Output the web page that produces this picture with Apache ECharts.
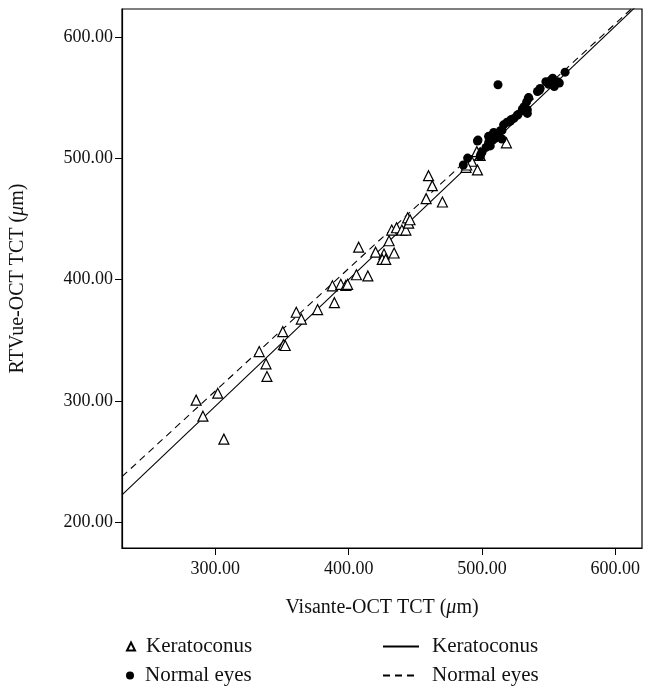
<!DOCTYPE html>
<html>
<head>
<meta charset="utf-8">
<script src="https://cdn.jsdelivr.net/npm/echarts@6/dist/echarts.min.js"></script>
<style>
  html, body { margin: 0; padding: 0; background: #fff; }
  #main { width: 651px; height: 686px; }
</style>
</head>
<body>
<div id="main"></div>
<script>
// Keratoconus eyes [Visante, RTVue]
const keratoconus = [
  [285.6, 300.8], [290.7, 287.6], [301.8, 306.5], [306.4, 268.7], [332.9, 340.8],
  [338.0, 330.7], [338.7, 320.3], [350.6, 357.2], [351.1, 346.5], [352.4, 345.8],
  [360.7, 373.2], [364.5, 367.6], [376.7, 375.4], [387.8, 395.0], [389.3, 381.1],
  [394.1, 396.2], [397.9, 395.3], [399.2, 396.2], [405.8, 404.1], [407.5, 426.8],
  [414.4, 403.1], [420.2, 422.7], [426.5, 421.1], [425.2, 416.7], [427.8, 416.7],
  [434.1, 422.0], [430.3, 432.1], [432.3, 440.9], [435.9, 442.8], [439.9, 440.9],
  [442.9, 440.9], [444.2, 451.0], [445.0, 446.6], [446.0, 449.4], [458.1, 466.8],
  [459.9, 485.7], [462.7, 477.5], [470.3, 464.0], [488.0, 492.6], [492.3, 497.6],
  [496.6, 490.4], [496.1, 505.5], [498.6, 502.4], [518.3, 512.8], [488.5, 494.5]
];

// Normal eyes [Visante, RTVue]
const normalEyes = [
  [486.0, 494.5], [489.2, 500.2], [496.6, 514.3], [498.6, 501.4], [512.0, 560.6],
  [504.9, 518.1], [506.2, 513.4], [508.2, 519.7], [510.0, 516.5], [506.2, 510.2],
  [508.8, 521.3], [511.3, 519.1], [513.8, 522.8], [515.0, 515.9], [516.2, 527.6],
  [518.8, 529.8], [521.3, 530.7], [523.9, 532.9], [526.4, 535.4], [530.2, 540.2],
  [531.4, 542.4], [534.0, 537.0], [533.5, 546.5], [534.7, 549.6], [541.6, 555.0],
  [543.6, 557.5], [547.9, 563.1], [551.7, 564.4], [554.2, 559.1], [556.7, 563.1],
  [562.3, 571.0], [543.0, 556.0], [535.0, 550.0], [534.0, 540.0], [522.0, 532.0],
  [520.0, 530.0], [515.0, 523.0], [508.0, 515.0], [510.0, 520.0], [505.0, 513.0],
  [497.0, 515.0], [499.0, 503.0], [500.0, 505.0], [550.0, 561.0], [553.0, 566.0],
  [558.0, 562.0], [512.0, 518.0], [507.0, 517.0], [503.0, 509.0], [527.0, 536.0]
];

// regression lines [slope, intercept]
const fitKeratoconus = [1.0436, -17.3];
const fitNormal = [1.0086, 5.8];

const xTicks = [300, 400, 500, 600];
const yTicks = [200, 300, 400, 500, 600];
const xRange = [230, 620];
const yRange = [179, 623];

const font = '"Liberation Serif", "DejaVu Serif", serif';

function fitLine(f) {
  return xRange.map(x => [x, f[0] * x + f[1]]);
}

// one legend per entry so the rows sit where the reference puts them
function legendRow(name, left, top, w) {
  return {
    left: left, top: top, padding: 0,
    itemWidth: w, itemHeight: 8, itemGap: 0,
    itemStyle: w > 20 ? { opacity: 0 } : {},
    textStyle: { fontFamily: font, fontSize: 21, color: '#111', padding: [0, 0, 0, w > 20 ? 8 : 6] },
    data: [name]
  };
}

const chart = echarts.init(document.getElementById('main'));

chart.setOption({
  animation: false,
  grid: {
    left: 122, top: 9, right: 9, bottom: 138,
    show: true, borderColor: '#000', borderWidth: 1.2
  },
  legend: [
    legendRow('Keratoconus', 126, 636, 8),
    legendRow('Normal eyes', 126, 665, 8),
    legendRow('Keratoconus ', 382, 636, 36),
    legendRow('Normal eyes ', 382, 665, 36)
  ],
  xAxis: {
    type: 'value', min: xRange[0], max: xRange[1],
    name: 'Visante-OCT TCT ({i|μ}m)',
    nameLocation: 'middle', nameGap: 50,
    nameTextStyle: {
      fontFamily: font, fontSize: 20, color: '#111',
      rich: { i: { fontFamily: font, fontSize: 20, fontStyle: 'italic', color: '#111' } }
    },
    splitLine: { show: false },
    axisLine: { lineStyle: { color: '#000', width: 1.2 } },
    axisTick: { show: true, length: 7, lineStyle: { color: '#000' }, customValues: xTicks },
    axisLabel: {
      fontFamily: font, fontSize: 18, color: '#111', margin: 12,
      customValues: xTicks,
      formatter: v => v.toFixed(2)
    }
  },
  yAxis: {
    type: 'value', min: yRange[0], max: yRange[1],
    name: 'RTVue-OCT TCT ({i|μ}m)',
    nameLocation: 'middle', nameGap: 94,
    nameTextStyle: {
      fontFamily: font, fontSize: 20, color: '#111',
      rich: { i: { fontFamily: font, fontSize: 20, fontStyle: 'italic', color: '#111' } }
    },
    splitLine: { show: false },
    axisLine: { lineStyle: { color: '#000', width: 1.2 } },
    axisTick: { show: true, length: 7, lineStyle: { color: '#000' }, customValues: yTicks },
    axisLabel: {
      fontFamily: font, fontSize: 18, color: '#111', margin: 9,
      customValues: yTicks,
      formatter: v => v.toFixed(2)
    }
  },
  series: [
    {
      name: 'Keratoconus ', type: 'line', data: fitLine(fitKeratoconus),
      symbol: 'none', clip: true, z: 1,
      lineStyle: { color: '#000', width: 1.1, type: 'solid' },
      itemStyle: { color: '#000' }
    },
    {
      name: 'Normal eyes ', type: 'line', data: fitLine(fitNormal),
      symbol: 'none', clip: true, z: 1,
      lineStyle: { color: '#000', width: 1.1, type: [7, 5] },
      itemStyle: { color: '#000' }
    },
    {
      name: 'Keratoconus', type: 'scatter', data: keratoconus,
      symbol: 'triangle', symbolSize: 10, z: 3,
      itemStyle: { color: '#fff', borderColor: '#000', borderWidth: 1.2, opacity: 1 }
    },
    {
      name: 'Normal eyes', type: 'scatter', data: normalEyes,
      symbol: 'circle', symbolSize: 9, z: 4,
      itemStyle: { color: '#000', opacity: 1 }
    }
  ]
});
</script>
</body>
</html>
